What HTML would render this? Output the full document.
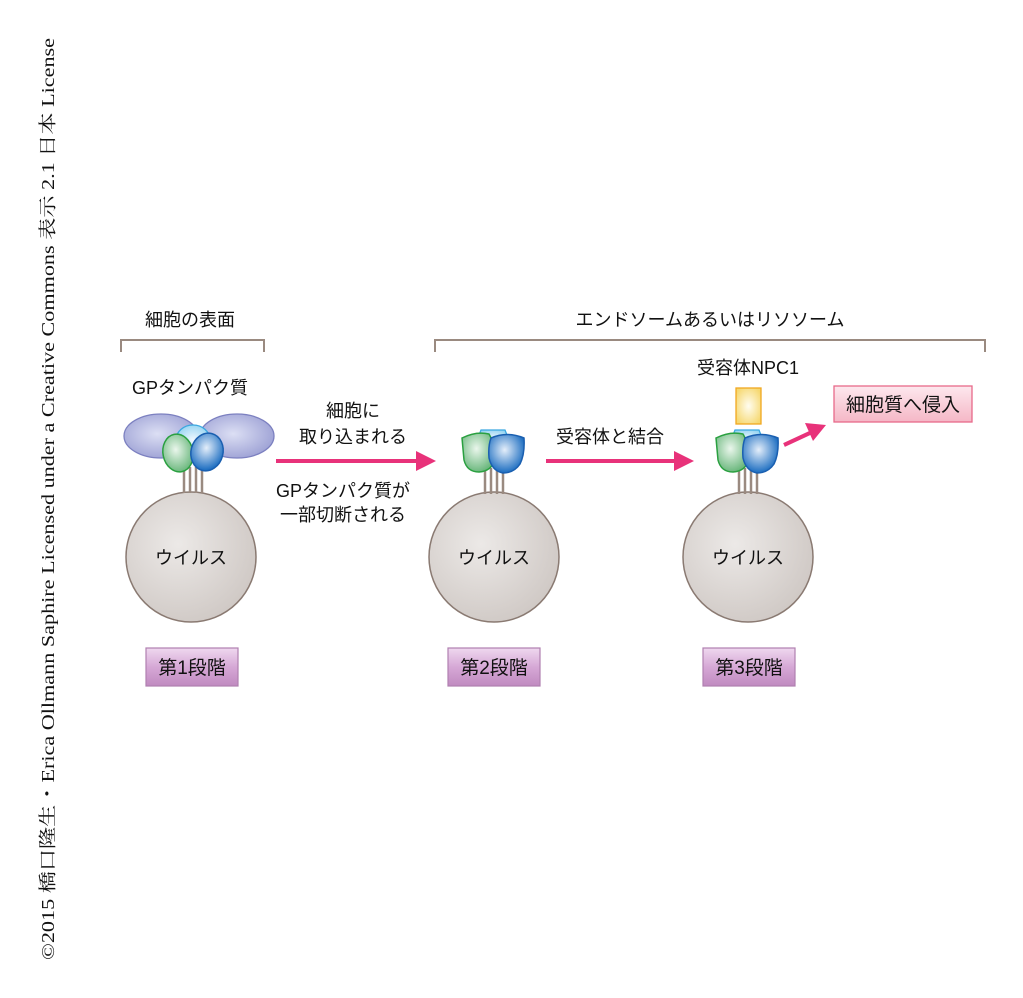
<!DOCTYPE html>
<html><head><meta charset="utf-8"><style>
body{margin:0;background:#fff;}
svg text{font-family:"Liberation Sans","Noto Sans CJK JP",sans-serif;fill:#111;}
</style></head><body>
<svg width="1023" height="993" viewBox="0 0 1023 993" xmlns="http://www.w3.org/2000/svg">
<defs>
<radialGradient id="gc" cx="0.4" cy="0.4" r="0.7"><stop offset="0" stop-color="#ece9e7"/><stop offset="1" stop-color="#cdc6c2"/></radialGradient>
<radialGradient id="gp" cx="0.45" cy="0.45" r="0.6"><stop offset="0" stop-color="#dcdff4"/><stop offset="1" stop-color="#9ca0d4"/></radialGradient>
<radialGradient id="gg" cx="0.45" cy="0.4" r="0.6"><stop offset="0" stop-color="#eaf6ec"/><stop offset="1" stop-color="#6cb87e"/></radialGradient>
<radialGradient id="gb" cx="0.45" cy="0.4" r="0.6"><stop offset="0" stop-color="#e4eefa"/><stop offset="1" stop-color="#1a6cc0"/></radialGradient>
<radialGradient id="gl" cx="0.5" cy="0.5" r="0.6"><stop offset="0" stop-color="#f0f8ff"/><stop offset="1" stop-color="#8cd0f0"/></radialGradient>
<radialGradient id="gy" cx="0.5" cy="0.5" r="0.6"><stop offset="0" stop-color="#fffdf0"/><stop offset="1" stop-color="#f6d870"/></radialGradient>
<linearGradient id="gv" x1="0" y1="0" x2="0" y2="1"><stop offset="0" stop-color="#efd8ef"/><stop offset="0.5" stop-color="#d6a8d6"/><stop offset="1" stop-color="#c08ac0"/></linearGradient>
<linearGradient id="gk" x1="0" y1="0" x2="0" y2="1"><stop offset="0" stop-color="#fde8ee"/><stop offset="1" stop-color="#f5b7c6"/></linearGradient>
<g id="stems" stroke="#9a8a80" stroke-width="2.5"><line x1="-8" y1="0" x2="-8" y2="26"/><line x1="-2" y1="0" x2="-2" y2="26"/><line x1="4" y1="0" x2="4" y2="26"/><line x1="10" y1="0" x2="10" y2="26"/></g>
<g id="cut">
<path d="M-12,-28 L12,-28 L16,-18 L2,-10 L-16,-18 Z" fill="url(#gl)" stroke="#3aa8e0" stroke-width="1.3"/>
<path d="M-31,-20 Q-17,-27 -4,-24 Q2,-14 1,2 Q-1,13 -14,14 Q-26,14 -29,2 Z" fill="url(#gg)" stroke="#2aa040" stroke-width="1.5"/>
<path d="M-2,-20 Q14,-27 31,-20 Q32,-4 27,6 Q21,15 10,15 Q-1,13 -4,0 Q-5,-12 -2,-20 Z" fill="url(#gb)" stroke="#1a5fb0" stroke-width="1.5"/>
</g>
</defs>
<text transform="translate(54,960) rotate(-90)" style="font-family:'Liberation Serif','Noto Serif CJK SC',serif;font-size:18.3px;" textLength="922" lengthAdjust="spacingAndGlyphs">©2015 橋口隆生・Erica Ollmann Saphire Licensed under a Creative Commons 表示 2.1 日本 License</text>

<g font-size="18">
<text x="190" y="326" text-anchor="middle">細胞の表面</text>
<text x="710" y="326" text-anchor="middle">エンドソームあるいはリソソーム</text>
<text x="190" y="394" text-anchor="middle">GPタンパク質</text>
<text x="353" y="417" text-anchor="middle">細胞に</text>
<text x="353" y="443" text-anchor="middle">取り込まれる</text>
<text x="343" y="497" text-anchor="middle">GPタンパク質が</text>
<text x="343" y="521" text-anchor="middle">一部切断される</text>
<text x="610" y="443" text-anchor="middle">受容体と結合</text>
<text x="748" y="374" text-anchor="middle">受容体NPC1</text>
</g>
<path d="M121,352 V340 H264 V352" fill="none" stroke="#9a8a80" stroke-width="2"/>
<path d="M435,352 V340 H985 V352" fill="none" stroke="#9a8a80" stroke-width="2"/>

<g stroke="#8a7a72" stroke-width="1.5" fill="url(#gc)">
<circle cx="191" cy="557" r="65"/><circle cx="494" cy="557" r="65"/><circle cx="748" cy="557" r="65"/>
</g>
<g font-size="18" text-anchor="middle"><text x="191" y="564">ウイルス</text><text x="494" y="564">ウイルス</text><text x="748" y="564">ウイルス</text></g>

<use href="#stems" x="192" y="467"/>
<ellipse cx="161" cy="436" rx="37" ry="22" fill="url(#gp)" stroke="#7c80c0" stroke-width="1.3"/>
<ellipse cx="237" cy="436" rx="37" ry="22" fill="url(#gp)" stroke="#7c80c0" stroke-width="1.3"/>
<ellipse cx="193" cy="440" rx="17" ry="15" fill="url(#gl)" stroke="#3aa8e0" stroke-width="1.3"/>
<ellipse cx="178" cy="453" rx="15" ry="19" transform="rotate(-12 178 453)" fill="url(#gg)" stroke="#2aa040" stroke-width="1.5"/>
<ellipse cx="207" cy="452" rx="16" ry="19" transform="rotate(15 207 452)" fill="url(#gb)" stroke="#1a5fb0" stroke-width="1.5"/>

<use href="#stems" x="493" y="468"/>
<use href="#cut" x="493" y="458"/>
<use href="#stems" x="747" y="468"/>
<use href="#cut" x="747" y="458"/>
<rect x="736" y="388" width="25" height="36" fill="url(#gy)" stroke="#f0a820" stroke-width="1.3"/>

<g fill="#e8327a" stroke="#e8327a">
<line x1="276" y1="461" x2="418" y2="461" stroke-width="4"/><path d="M416,451 L436,461 L416,471 Z" stroke="none"/>
<line x1="546" y1="461" x2="676" y2="461" stroke-width="4"/><path d="M674,451 L694,461 L674,471 Z" stroke="none"/>
<line x1="784" y1="445" x2="812" y2="432" stroke-width="4"/><path d="M805,423 L826,425 L813,441 Z" stroke="none"/>
</g>

<rect x="834" y="386" width="138" height="36" fill="url(#gk)" stroke="#e86a8a" stroke-width="1.3"/>
<text x="903" y="411" font-size="19" text-anchor="middle">細胞質へ侵入</text>

<g stroke="#b080b0" stroke-width="1.2" fill="url(#gv)">
<rect x="146" y="648" width="92" height="38"/><rect x="448" y="648" width="92" height="38"/><rect x="703" y="648" width="92" height="38"/>
</g>
<g font-size="19" text-anchor="middle"><text x="192" y="674">第1段階</text><text x="494" y="674">第2段階</text><text x="749" y="674">第3段階</text></g>
</svg>
</body></html>
